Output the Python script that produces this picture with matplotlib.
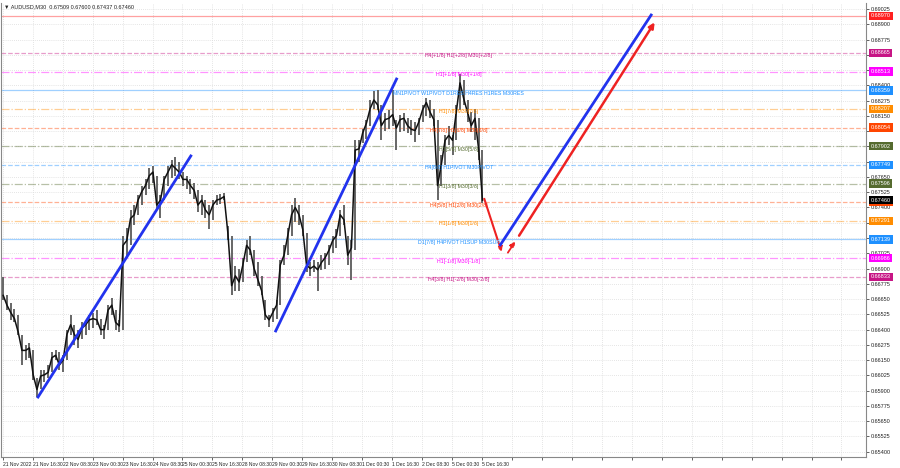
import numpy as np
import matplotlib.pyplot as plt

plt.rcParams['font.family'] = ['Liberation Sans', 'DejaVu Sans']

# AUDUSD M30, read as 2-hour blocks (4 bars each), 21 Nov 00:00 .. 5 Dec 18:00
hi = [0.6683, 0.6668, 0.6662, 0.6657, 0.6652, 0.6636, 0.6627, 0.6629, 0.6623, 0.6600, 0.6607, 0.6607,
      0.6611, 0.6622, 0.6623, 0.6622, 0.6619, 0.6640, 0.6652, 0.6644, 0.6640, 0.6646, 0.6648, 0.6652,
      0.6654, 0.6656, 0.6649, 0.6644, 0.6660, 0.6666, 0.6656, 0.6648, 0.6717, 0.6723, 0.6738, 0.6742,
      0.6750, 0.6758, 0.6763, 0.6772, 0.6774, 0.6766, 0.6750, 0.6766, 0.6774, 0.6779, 0.6781, 0.6777,
      0.6769, 0.6766, 0.6763, 0.6760, 0.6754, 0.6750, 0.6746, 0.6742, 0.6746, 0.6750, 0.6751, 0.6752,
      0.6725, 0.6717, 0.6692, 0.6690, 0.6699, 0.6713, 0.6717, 0.6705, 0.6695, 0.6684, 0.6664, 0.6652,
      0.6658, 0.6664, 0.6697, 0.6709, 0.6723, 0.6742, 0.6748, 0.6742, 0.6734, 0.6719, 0.6695, 0.6697,
      0.6695, 0.6701, 0.6703, 0.6709, 0.6717, 0.6722, 0.6738, 0.6742, 0.6717, 0.6713, 0.6795, 0.6795,
      0.6804, 0.6812, 0.6828, 0.6835, 0.6836, 0.6824, 0.6817, 0.6820, 0.6836, 0.6812, 0.6816, 0.6817,
      0.6813, 0.6812, 0.6810, 0.6813, 0.6824, 0.6830, 0.6828, 0.6821, 0.6812, 0.6783, 0.6799, 0.6807,
      0.6799, 0.6824, 0.6849, 0.6844, 0.6828, 0.6818, 0.6821, 0.6813, 0.6787]
lo = [0.6664, 0.6656, 0.6648, 0.6646, 0.6636, 0.6611, 0.6615, 0.6617, 0.6599, 0.6585, 0.6591, 0.6597,
      0.6600, 0.6605, 0.6615, 0.6607, 0.6605, 0.6615, 0.6636, 0.6627, 0.6625, 0.6632, 0.6636, 0.6640,
      0.6641, 0.6644, 0.6636, 0.6632, 0.6640, 0.6652, 0.6640, 0.6638, 0.6640, 0.6699, 0.6709, 0.6726,
      0.6734, 0.6742, 0.6750, 0.6755, 0.6760, 0.6738, 0.6731, 0.6746, 0.6758, 0.6764, 0.6766, 0.6763,
      0.6758, 0.6755, 0.6751, 0.6747, 0.6736, 0.6734, 0.6731, 0.6722, 0.6730, 0.6742, 0.6743, 0.6746,
      0.6713, 0.6668, 0.6672, 0.6672, 0.6679, 0.6695, 0.6701, 0.6684, 0.6676, 0.6668, 0.6648, 0.6642,
      0.6646, 0.6649, 0.6660, 0.6693, 0.6701, 0.6717, 0.6728, 0.6726, 0.6717, 0.6687, 0.6684, 0.6687,
      0.6672, 0.6689, 0.6690, 0.6693, 0.6703, 0.6707, 0.6717, 0.6726, 0.6693, 0.6681, 0.6705, 0.6777,
      0.6793, 0.6796, 0.6807, 0.6821, 0.6820, 0.6795, 0.6803, 0.6804, 0.6807, 0.6787, 0.6802, 0.6803,
      0.6801, 0.6799, 0.6794, 0.6799, 0.6810, 0.6815, 0.6813, 0.6807, 0.6746, 0.6758, 0.6775, 0.6791,
      0.6783, 0.6795, 0.6820, 0.6824, 0.6810, 0.6802, 0.6795, 0.6779, 0.6744]
cl = [0.6668, 0.6660, 0.6654, 0.6649, 0.6638, 0.6623, 0.6623, 0.6625, 0.6603, 0.6591, 0.6602, 0.6603,
      0.6605, 0.6617, 0.6619, 0.6611, 0.6615, 0.6636, 0.6644, 0.6636, 0.6632, 0.6641, 0.6644, 0.6648,
      0.6649, 0.6648, 0.6640, 0.6640, 0.6656, 0.6660, 0.6646, 0.6643, 0.6709, 0.6713, 0.6731, 0.6734,
      0.6746, 0.6753, 0.6758, 0.6766, 0.6769, 0.6742, 0.6746, 0.6763, 0.6769, 0.6775, 0.6772, 0.6769,
      0.6763, 0.6763, 0.6758, 0.6754, 0.6742, 0.6746, 0.6738, 0.6734, 0.6742, 0.6746, 0.6747, 0.6749,
      0.6719, 0.6676, 0.6684, 0.6679, 0.6693, 0.6709, 0.6705, 0.6690, 0.6681, 0.6672, 0.6652, 0.6648,
      0.6654, 0.6660, 0.6693, 0.6701, 0.6717, 0.6734, 0.6740, 0.6734, 0.6722, 0.6693, 0.6690, 0.6692,
      0.6689, 0.6695, 0.6699, 0.6705, 0.6713, 0.6717, 0.6734, 0.6730, 0.6701, 0.6707, 0.6787, 0.6788,
      0.6801, 0.6809, 0.6821, 0.6828, 0.6824, 0.6807, 0.6812, 0.6813, 0.6816, 0.6805, 0.6812, 0.6813,
      0.6807, 0.6804, 0.6803, 0.6810, 0.6820, 0.6826, 0.6818, 0.6812, 0.6758, 0.6775, 0.6795, 0.6799,
      0.6795, 0.6818, 0.6842, 0.6829, 0.6818, 0.6807, 0.6813, 0.6787, 0.6746]

# Murrey-style levels
levels = [0.68970, 0.68665, 0.68513, 0.68359, 0.68207, 0.68054, 0.67902,
          0.67749, 0.67596, 0.67444, 0.67291, 0.67139, 0.66986, 0.66833]
level_text = ['', 'H4[+1/8] H1[+2/8] M30[+2/8]', 'H1[+1/8] M30[+1/8]',
              'MN1PIVOT W1PIVOT D1RES H4RES H1RES M30RES', 'H1[7/8] M30[7/8]',
              'H4[7/8] H1[6/8] M30[6/8]', 'H1[5/8] M30[5/8]', 'H4[6/8] H1PIVOT M30PIVOT',
              'H1[3/8] M30[3/8]', 'H4[5/8] H1[2/8] M30[2/8]', 'H1[1/8] M30[1/8]',
              'D1[7/8] H4PIVOT H1SUP M30SUP', 'H1[-1/8] M30[-1/8]', 'H4[3/8] H1[-2/8] M30[-2/8]']
level_color = ['#ff2020', '#c71585', '#ff00ff', '#1e90ff', '#ff8c00', '#ff4500', '#556b2f',
               '#1e90ff', '#556b2f', '#ff4500', '#ff8c00', '#1e90ff', '#ff00ff', '#c71585']
level_style = ['-', '--', '-.', '-', '-.', '--', '-.', '--', '-.', '--', '-.', '-', '-.', '--']

last_price = 0.67460

# time axis labels (one every 32 M30 bars)
tick_names = ['21 Nov 2022', '21 Nov 16:30', '22 Nov 08:30', '23 Nov 00:30', '23 Nov 16:30',
              '24 Nov 08:30', '25 Nov 00:30', '25 Nov 16:30', '28 Nov 08:30', '29 Nov 00:30',
              '29 Nov 16:30', '30 Nov 08:30', '1 Dec 00:30', '1 Dec 16:30', '2 Dec 08:30',
              '5 Dec 00:30', '5 Dec 16:30']

# drawn trend lines: (bar, price) pairs
blue_lines = [((38.7, 0.65848), (201.9, 0.67822)),
              ((292.6, 0.66389), (421.7, 0.68452)),
              ((532.6, 0.67094), (693.7, 0.68976))]

fig = plt.figure(figsize=(9, 4.68), dpi=100)
ax = fig.add_axes([0.0015, 0.0235, 0.9605, 0.97])
ax.set_facecolor('white')

x = np.arange(len(hi)) * 4 + 1.5
ax.vlines(x, lo, hi, color='#666666', lw=1.4, zorder=3)
ax.plot(x, cl, color='#111111', lw=1.1, zorder=4)

tags = levels + [last_price]
for p, t, c, s in zip(levels, level_text, level_color, level_style):
    ax.axhline(p, color=c, ls=s, lw=0.9, alpha=0.42, zorder=2)
    if t:
        ax.text(488, p - 0.00004, t, color=c, fontsize=3.8, ha='center', va='top', zorder=5)
    ax.text(1.006, p, '%.5f' % p, transform=ax.get_yaxis_transform(), color='white',
            fontsize=4.0, va='center', ha='left', clip_on=False, zorder=6,
            bbox=dict(boxstyle='square,pad=0.3', fc=c, ec='none'))
ax.text(1.006, last_price, '%.5f' % last_price, transform=ax.get_yaxis_transform(), color='white',
        fontsize=4.0, va='center', ha='left', clip_on=False, zorder=7,
        bbox=dict(boxstyle='square,pad=0.3', fc='black', ec='none'))

for (x0, y0), (x1, y1) in blue_lines:
    ax.plot([x0, x1], [y0, y1], color='#2233ee', lw=2.0, zorder=6)

# red projection arrows
ax.plot([515.5, 529.5], [0.67469, 0.67140], color='#ee2222', lw=1.5, zorder=6)
ax.annotate('', xy=(535.0, 0.67015), xytext=(529.5, 0.67140),
            arrowprops=dict(arrowstyle='-|>', color='#ee2222', lw=1.3, ls='--', mutation_scale=7))
ax.annotate('', xy=(550.0, 0.67140), xytext=(539.0, 0.67011),
            arrowprops=dict(arrowstyle='-|>', color='#ee2222', lw=1.3, ls='--', mutation_scale=7))
ax.annotate('', xy=(699.0, 0.68935), xytext=(551.0, 0.67150),
            arrowprops=dict(arrowstyle='-|>', color='#ee2222', lw=1.8, mutation_scale=8))

ax.set_xlim(-0.5, 923)
ax.set_ylim(0.65357, 0.69074)

grid_x = list(range(1, 923, 32))
ax.set_xticks(grid_x)
ax.set_xticklabels([tick_names[i] if i < len(tick_names) else '' for i in range(len(grid_x))],
                   fontsize=3.6, ha='left')
yt = np.arange(0.65400, 0.69030, 0.00125)
ax.yaxis.tick_right()
ax.set_yticks(yt)
ax.set_yticklabels(['' if min(abs(v - q) for q in tags) < 0.0003 else '%.5f' % v for v in yt],
                   fontsize=4.0)
ax.tick_params(axis='both', length=2, width=0.5, pad=1.5, colors='#222222')
ax.grid(True, color='#dcdcdc', ls=(0, (1, 1.5)), lw=0.6, zorder=0)

ax.spines['top'].set_visible(False)
for side in ['left', 'right', 'bottom']:
    ax.spines[side].set_color('#888888')
    ax.spines[side].set_linewidth(0.8)

fig.text(0.004, 0.985, '\u25bc AUDUSD,M30  0.67509 0.67600 0.67437 0.67460', fontsize=4.0,
         va='center', ha='left', color='#222222')

fig.savefig('out.png', dpi=100, facecolor='white')
